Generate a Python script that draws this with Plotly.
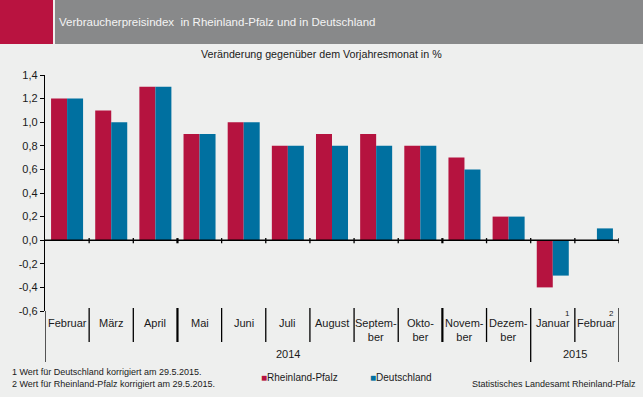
import plotly.graph_objects as go

# ---- data ----
categories = ["Februar", "März", "April", "Mai", "Juni", "Juli", "August",
              "Septem-<br>ber", "Okto-<br>ber", "Novem-<br>ber", "Dezem-<br>ber",
              "Januar", "Februar"]
years = ["2014", "2015"]
year_first_idx = [0, 11]
year_last_idx = [10, 12]
rheinland_pfalz = [1.2, 1.1, 1.3, 0.9, 1.0, 0.8, 0.9, 0.9, 0.8, 0.7, 0.2, -0.4, 0.0]
deutschland = [1.2, 1.0, 1.3, 0.9, 1.0, 0.8, 0.8, 0.8, 0.8, 0.6, 0.2, -0.3, 0.1]
series_names = ["Rheinland-Pfalz", "Deutschland"]
tick_vals = [-0.6, -0.4, -0.2, 0.0, 0.2, 0.4, 0.6, 0.8, 1.0, 1.2, 1.4]
tick_text = ["-0,6", "-0,4", "-0,2", "0,0", "0,2", "0,4", "0,6", "0,8", "1,0", "1,2", "1,4"]
footnote_marks = {11: "1", 12: "2"}

title = "Verbraucherpreisindex  in Rheinland-Pfalz und in Deutschland"
subtitle = "Veränderung gegenüber dem Vorjahresmonat in %"
footnotes = ["1 Wert für Deutschland korrigiert am 29.5.2015.",
             "2 Wert für Rheinland-Pfalz korrigiert am 29.5.2015."]
source = "Statistisches Landesamt Rheinland-Pfalz"

# ---- style ----
RED = "#b5133f"
BLUE = "#0070a0"
BG = "#eeefee"
GRAY = "#88898a"
TXT = "#1a1a1a"
FONT = "Liberation Sans, Arial, sans-serif"

W, H = 643, 397
L, R, T, B = 45, 24, 75, 86
PW, PH = W - L - R, H - T - B


def px(x):
    return (x - L) / PW


def py(y):
    return (H - B - y) / PH


n = len(categories)
xs = list(range(n))

fig = go.Figure()
fig.add_bar(x=xs, y=rheinland_pfalz, name=series_names[0], marker_color=RED,
            marker_line_width=0, showlegend=False)
fig.add_bar(x=xs, y=deutschland, name=series_names[1], marker_color=BLUE,
            marker_line_width=0, showlegend=False)

shapes = []
# title bar
shapes.append(dict(type="rect", xref="paper", yref="paper", x0=px(0), x1=px(53),
                   y0=py(44), y1=py(0), fillcolor="#b91340", line_width=0, layer="below"))
shapes.append(dict(type="rect", xref="paper", yref="paper", x0=px(55), x1=px(643),
                   y0=py(44), y1=py(0), fillcolor=GRAY, line_width=0, layer="below"))
# zero line
shapes.append(dict(type="line", xref="x", yref="y", x0=-0.5, x1=n - 0.5, y0=0, y1=0,
                   line=dict(color="black", width=1.4), layer="above"))
# ticks on zero line and separators in label area
thick = {2.5, 8.5}
year_bounds = set([year_first_idx[0] - 0.5] + [l + 0.5 for l in year_last_idx])
for k in range(n + 1):
    b = k - 0.5
    w = 2.2 if b in thick else 1.3
    if b != -0.5:
        shapes.append(dict(type="line", xref="x", yref="y", x0=b, x1=b, y0=0.018, y1=-0.026,
                           line=dict(color="black", width=w), layer="above"))
    if b in year_bounds:
        shapes.append(dict(type="line", xref="x", yref="paper", x0=b, x1=b,
                           y0=py(308) if b != -0.5 else py(311), y1=py(362),
                           line=dict(color="black", width=1.3)))
    else:
        shapes.append(dict(type="line", xref="x", yref="paper", x0=b, x1=b,
                           y0=py(308), y1=py(342), line=dict(color="black", width=w)))

annotations = []
annotations.append(dict(text=title, xref="paper", yref="paper", x=px(57), y=py(22),
                        xanchor="left", yanchor="middle", showarrow=False,
                        font=dict(family=FONT, size=11.5, color="#f4f4f4")))
annotations.append(dict(text=subtitle, xref="paper", yref="paper", x=px(321), y=py(54),
                        xanchor="center", yanchor="middle", showarrow=False,
                        font=dict(family=FONT, size=10.7, color=TXT)))
for i, c in enumerate(categories):
    annotations.append(dict(text=c, xref="x", yref="paper", x=i, y=py(315),
                            xanchor="center", yanchor="top", showarrow=False,
                            font=dict(family=FONT, size=11, color=TXT)))
for i, m in footnote_marks.items():
    annotations.append(dict(text=m, xref="x", yref="paper", x=i + 0.33, y=py(313),
                            xanchor="center", yanchor="middle", showarrow=False,
                            font=dict(family=FONT, size=8, color=TXT)))
for yl, a, b in zip(years, year_first_idx, year_last_idx):
    annotations.append(dict(text=yl, xref="x", yref="paper", x=(a + b) / 2, y=py(354),
                            xanchor="center", yanchor="middle", showarrow=False,
                            font=dict(family=FONT, size=11, color=TXT)))
annotations.append(dict(text="<br>".join(footnotes), xref="paper", yref="paper",
                        x=px(10), y=py(378), xanchor="left", yanchor="middle",
                        align="left", showarrow=False,
                        font=dict(family=FONT, size=9, color=TXT)))
for name, col, xp in zip(series_names, [RED, BLUE], [259, 368]):
    annotations.append(dict(text=f'<span style="color:{col}">■</span>{name}',
                            xref="paper", yref="paper", x=px(xp), y=py(377),
                            xanchor="left", yanchor="middle", showarrow=False,
                            font=dict(family=FONT, size=10, color=TXT)))
annotations.append(dict(text=source, xref="paper", yref="paper", x=px(638), y=py(384),
                        xanchor="right", yanchor="middle", showarrow=False,
                        font=dict(family=FONT, size=9, color=TXT)))

fig.update_layout(
    width=W, height=H, autosize=False,
    margin=dict(l=L, r=R, t=T, b=B, pad=0),
    paper_bgcolor=BG, plot_bgcolor=BG,
    barmode="group", bargap=0.275, bargroupgap=0,
    showlegend=False,
    xaxis=dict(range=[-0.5, n - 0.5], visible=False, fixedrange=True),
    yaxis=dict(range=[-0.6, 1.4], tickvals=tick_vals, ticktext=tick_text,
               showgrid=False, zeroline=False, showline=True, linecolor="black",
               linewidth=1.3, ticks="outside", ticklen=4, tickcolor="black",
               tickwidth=1.2, tickfont=dict(family=FONT, size=11, color=TXT),
               fixedrange=True),
    shapes=shapes, annotations=annotations,
    font=dict(family=FONT),
)
fig.write_html("out.html", config={"displayModeBar": False},
               post_script="document.body.style.margin='0';document.body.style.background='" + BG + "';")
